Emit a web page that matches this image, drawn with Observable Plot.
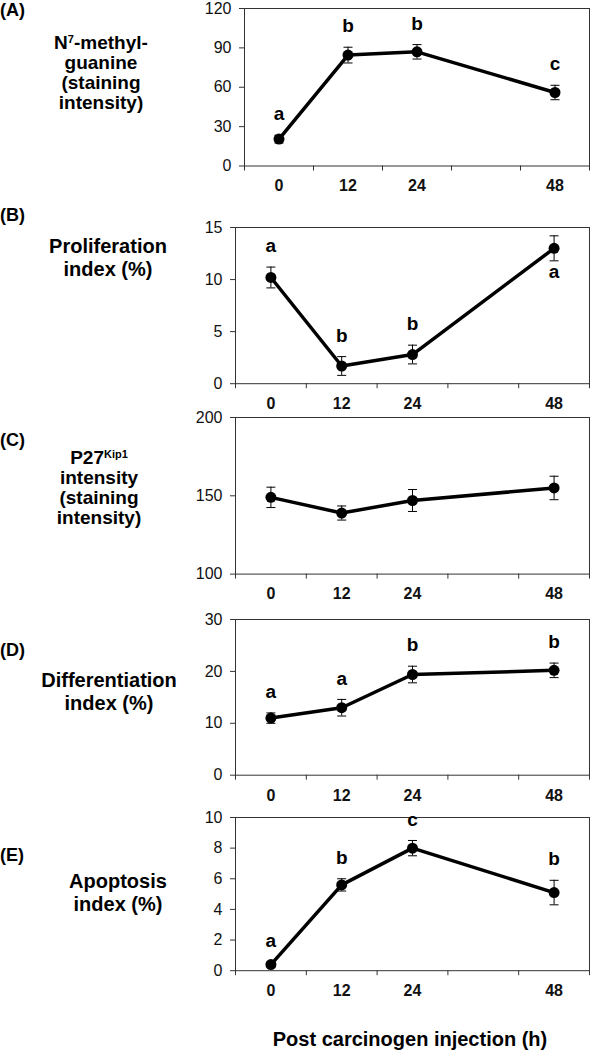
<!DOCTYPE html>
<html>
<head>
<meta charset="utf-8">
<script src="https://cdn.jsdelivr.net/npm/d3@7"></script>
<script src="https://cdn.jsdelivr.net/npm/@observablehq/plot@0.6"></script>
<style>
  html, body { margin: 0; padding: 0; background: #fff; }
  #chart { position: relative; width: 596px; height: 1050px; overflow: hidden; font-family: "Liberation Sans", Arial, sans-serif; }
  .lab { position: absolute; transform: translateX(-50%); text-align: center; white-space: nowrap; font-weight: bold; font-size: 20px; color: #000; }
  .lab.sm { font-size: 19px; }
  .tag { position: absolute; left: 0; font-weight: bold; font-size: 18px; line-height: 20px; color: #000; white-space: nowrap; }
  .lab sup { font-size: 11px; line-height: 0; position: relative; top: -6px; vertical-align: baseline; }
  .pnl { position: absolute; left: 0; }
  .pnl svg { overflow: visible; background: transparent; }
</style>
</head>
<body>
<div id="chart"></div>
<script>
// ---- data ----
const categories = ["0", "12", "24", "36", "48"];
const xTickLabels = ["0", "12", "24", "", "48"];
const hours = ["0", "12", "24", "48"];

const yTicksA = [0, 30, 60, 90, 120];
const meanA = [20.5, 84.5, 87, 56];
const errA = [3, 6, 5.5, 5.5];
const lettersA = ["a", "b", "b", "c"];
const sideA = ["above", "above", "above", "above"];

const yTicksB = [0, 5, 10, 15];
const meanB = [10.2, 1.7, 2.8, 13.0];
const errB = [1.0, 0.9, 0.9, 1.2];
const lettersB = ["a", "b", "b", "a"];
const sideB = ["above", "above", "above", "below"];

const yTicksC = [100, 150, 200];
const meanC = [149, 139, 147, 155];
const errC = [6.5, 4.5, 7, 7.5];
const lettersC = ["", "", "", ""];
const sideC = ["above", "above", "above", "above"];

const yTicksD = [0, 10, 20, 30];
const meanD = [11.0, 13.0, 19.4, 20.2];
const errD = [1.0, 1.6, 1.6, 1.4];
const lettersD = ["a", "a", "b", "b"];
const sideD = ["above", "above", "above", "above"];

const yTicksE = [0, 2, 4, 6, 8, 10];
const meanE = [0.4, 5.6, 8.0, 5.1];
const errE = [0.15, 0.4, 0.5, 0.8];
const lettersE = ["a", "b", "c", "b"];
const sideE = ["above", "above", "above", "above"];

const xTitle = "Post carcinogen injection (h)";

// ---- drawing ----
const chart = document.getElementById("chart");

const capSymbol = {
  draw(context, size) {
    const h = Math.sqrt(size / Math.PI);
    context.moveTo(-h, 0);
    context.lineTo(h, 0);
  }
};

function panel(cfg) {
  const rows = hours.map((h, i) => ({
    x: categories.indexOf(h),
    m: cfg.mean[i],
    e: cfg.err[i],
    letter: cfg.letters[i],
    side: cfg.side[i]
  }));
  const caps = rows.flatMap(d => [{x: d.x, y: d.m - d.e}, {x: d.x, y: d.m + d.e}]);
  const above = rows.filter(d => d.letter && d.side === "above");
  const below = rows.filter(d => d.letter && d.side === "below");
  const mt = 12, mb = 36;
  const bounds = d3.range(categories.length + 1).map(i => i - 0.5);
  const svg = Plot.plot({
    width: 596,
    height: cfg.bottom - cfg.top + mt + mb,
    marginTop: mt,
    marginBottom: mb,
    marginLeft: cfg.left,
    marginRight: 7,
    style: {fontFamily: "'Liberation Sans', Arial, sans-serif", background: "transparent", overflow: "visible", color: "#111"},
    x: {domain: [-0.5, categories.length - 0.5]},
    y: {domain: [cfg.ticks[0], cfg.ticks[cfg.ticks.length - 1]]},
    marks: [
      Plot.frame({stroke: "#333", strokeWidth: 1}),
      Plot.axisY({ticks: cfg.ticks, tickSize: 5, tickPadding: 8, label: null, fontSize: 16, stroke: "#333"}),
      Plot.axisX({ticks: bounds, tickSize: 5, tickFormat: () => "", label: null, stroke: "#333"}),
      Plot.axisX({ticks: d3.range(categories.length), tickSize: 0, tickPadding: 14, tickFormat: i => xTickLabels[i], label: null, fontSize: 16, fontWeight: "bold"}),
      Plot.ruleX(rows, {x: "x", y1: d => d.m - d.e, y2: d => d.m + d.e, stroke: "#000", strokeWidth: 1}),
      Plot.dot(caps, {x: "x", y: "y", symbol: capSymbol, r: 4.5, stroke: "#000", strokeWidth: 1, fill: "none"}),
      Plot.line(rows, {x: "x", y: "m", stroke: "#000", strokeWidth: 3.5}),
      Plot.dot(rows, {x: "x", y: "m", r: 5.5, fill: "#000"}),
      Plot.text(above, {x: "x", y: d => d.m + d.e, text: "letter", dy: -21, fontSize: 19, fontWeight: "bold", fill: "#000"}),
      Plot.text(below, {x: "x", y: d => d.m - d.e, text: "letter", dy: 11, fontSize: 19, fontWeight: "bold", fill: "#000"})
    ]
  });
  const div = document.createElement("div");
  div.className = "pnl";
  div.style.top = (cfg.top - mt) + "px";
  div.appendChild(svg);
  chart.appendChild(div);
}

panel({ticks: yTicksA, mean: meanA, err: errA, letters: lettersA, side: sideA, top: 7.5, bottom: 165, left: 244});
panel({ticks: yTicksB, mean: meanB, err: errB, letters: lettersB, side: sideB, top: 226.5, bottom: 382.7, left: 235});
panel({ticks: yTicksC, mean: meanC, err: errC, letters: lettersC, side: sideC, top: 416.7, bottom: 573.3, left: 235});
panel({ticks: yTicksD, mean: meanD, err: errD, letters: lettersD, side: sideD, top: 619.3, bottom: 775, left: 235});
panel({ticks: yTicksE, mean: meanE, err: errE, letters: lettersE, side: sideE, top: 817.3, bottom: 970.5, left: 235});

function addLabel(html, cls, left, top, lineHeight) {
  const d = document.createElement("div");
  d.className = cls;
  d.innerHTML = html;
  if (left !== null) d.style.left = left + "px";
  d.style.top = top + "px";
  if (lineHeight) d.style.lineHeight = lineHeight + "px";
  chart.appendChild(d);
}

addLabel("(A)", "tag", null, 0);
addLabel("(B)", "tag", null, 205);
addLabel("(C)", "tag", null, 430);
addLabel("(D)", "tag", null, 640);
addLabel("(E)", "tag", null, 845);

addLabel("N<sup>7</sup>-methyl-<br>guanine<br>(staining<br>intensity)", "lab sm", 101, 33, 20);
addLabel("Proliferation<br>index (%)", "lab", 108, 235, 23.3);
addLabel("P27<sup>Kip1</sup><br>intensity<br>(staining<br>intensity)", "lab sm", 99, 448, 20);
addLabel("Differentiation<br>index (%)", "lab", 109, 668.5, 23);
addLabel("Apoptosis<br>index (%)", "lab", 118, 870, 23.3);
addLabel(xTitle, "lab", 410, 1028, 22);
</script>
</body>
</html>
